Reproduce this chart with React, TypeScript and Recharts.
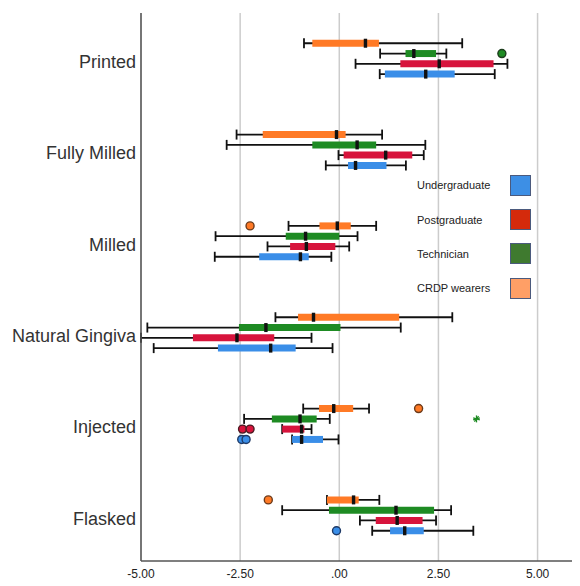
import React from 'react';
import { ScatterChart, Scatter, XAxis, YAxis, CartesianGrid, ErrorBar, Legend } from 'recharts';

const categories = ['Printed', 'Fully Milled', 'Milled', 'Natural Gingiva', 'Injected', 'Flasked'];
const xTicks = [-5, -2.5, 0, 2.5, 5];
const legendOrder = ['Undergraduate', 'Postgraduate', 'Technician', 'CRDP wearers'];

// [min, q1, median, q3, max] for each category
const crdpStats = [
  [-0.89, -0.68, 0.66, 1.0, 3.1],
  [-2.59, -1.93, -0.07, 0.16, 1.08],
  [-1.28, -0.5, -0.05, 0.29, 0.93],
  [-1.61, -1.04, -0.65, 1.51, 2.85],
  [-0.91, -0.51, -0.14, 0.35, 0.75],
  [-0.31, -0.31, 0.36, 0.49, 1.01],
];
const technicianStats = [
  [1.03, 1.67, 1.88, 2.44, 2.7],
  [-2.84, -0.68, 0.45, 0.93, 2.17],
  [-3.12, -1.35, -0.85, 0.0, 0.46],
  [-4.84, -2.53, -1.85, 0.03, 1.55],
  [-2.4, -1.7, -0.99, -0.57, -0.24],
  [-1.44, -0.26, 1.43, 2.39, 2.82],
];
const postgraduateStats = [
  [0.41, 1.54, 2.52, 3.89, 4.24],
  [-0.02, 0.11, 1.17, 1.84, 2.13],
  [-1.81, -1.24, -0.83, -0.1, 0.25],
  [-5.0, -3.69, -2.58, -1.64, -0.7],
  [-1.44, -1.44, -0.95, -0.88, -0.7],
  [0.52, 0.92, 1.46, 2.1, 2.44],
];
const undergraduateStats = [
  [1.02, 1.15, 2.18, 2.91, 3.92],
  [-0.34, 0.22, 0.41, 1.19, 1.68],
  [-3.14, -2.02, -0.98, -0.77, -0.2],
  [-4.68, -3.06, -1.73, -1.1, -0.17],
  [-1.19, -1.19, -0.95, -0.41, -0.02],
  [0.83, 1.28, 1.65, 2.13, 3.38],
];

const outlierGroups = ['Technician', 'CRDP wearers', 'CRDP wearers', 'Postgraduate', 'Postgraduate', 'Undergraduate', 'Undergraduate', 'CRDP wearers', 'Undergraduate'];
const outlierCategories = ['Printed', 'Milled', 'Injected', 'Injected', 'Injected', 'Injected', 'Injected', 'Flasked', 'Flasked'];
const outlierValues = [4.1, -2.25, 2.0, -2.44, -2.25, -2.46, -2.35, -1.79, -0.07];

const extremeGroups = ['Technician'];
const extremeCategories = ['Injected'];
const extremeValues = [3.46];

const statsByGroup: Record<string, number[][]> = {
  'CRDP wearers': crdpStats,
  Technician: technicianStats,
  Postgraduate: postgraduateStats,
  Undergraduate: undergraduateStats,
};

// styles and in-category offsets
const groupStyle: Record<string, { box: string; legend: string; offset: number; dark: string }> = {
  'CRDP wearers': { box: '#FF7A26', legend: '#FF9F66', offset: -0.169, dark: '#6b3a1a' },
  Technician: { box: '#1E8B23', legend: '#3F7A2F', offset: -0.056, dark: '#1d3d1d' },
  Postgraduate: { box: '#D7143C', legend: '#D42A0C', offset: 0.056, dark: '#4a1a22' },
  Undergraduate: { box: '#3A8EE8', legend: '#3D8FE5', offset: 0.169, dark: '#1f3a66' },
};

const FONT = '"Liberation Sans", Arial, sans-serif';

const boxData = (group: string) =>
  statsByGroup[group].map((s, i) => ({
    x: s[2],
    y: i + groupStyle[group].offset,
    whisker: [s[2] - s[0], s[4] - s[2]],
    box: [s[2] - s[1], s[3] - s[2]],
  }));

const medianData = Object.keys(statsByGroup).flatMap((g) => boxData(g).map((d) => ({ x: d.x, y: d.y })));

const outlierData = outlierValues.map((v, i) => ({
  x: v,
  y: categories.indexOf(outlierCategories[i]) + groupStyle[outlierGroups[i]].offset,
  group: outlierGroups[i],
}));

const extremeData = extremeValues.map((v, i) => ({
  x: v,
  y: categories.indexOf(extremeCategories[i]) + groupStyle[extremeGroups[i]].offset,
  group: extremeGroups[i],
}));

const EmptyShape = () => <g />;

const MedianShape = (props: any) => {
  const { cx, cy } = props;
  return <rect x={cx - 1.7} y={cy - 4.5} width={3.4} height={9} fill="#111" />;
};

const OutlierShape = (props: any) => {
  const { cx, cy, payload } = props;
  const st = groupStyle[payload.group];
  return <circle cx={cx} cy={cy} r={4} fill={st.box} stroke={st.dark} strokeWidth={1.4} />;
};

const StarShape = (props: any) => {
  const { cx, cy, payload } = props;
  const c = groupStyle[payload.group].box;
  const r = 3.5;
  return (
    <g stroke={c} strokeWidth={1.3}>
      <line x1={cx} y1={cy - r} x2={cx} y2={cy + r} />
      <line x1={cx - r * 0.95} y1={cy - r * 0.31} x2={cx + r * 0.95} y2={cy + r * 0.31} />
      <line x1={cx - r * 0.95} y1={cy + r * 0.31} x2={cx + r * 0.95} y2={cy - r * 0.31} />
      <line x1={cx - r * 0.59} y1={cy + r * 0.81} x2={cx + r * 0.59} y2={cy - r * 0.81} />
    </g>
  );
};

const CategoryTick = (props: any) => {
  const { x, y, payload } = props;
  return (
    <text x={x} y={y + 3} dy="0.355em" textAnchor="end" fontSize={18} fill="#333" fontFamily={FONT}>
      {categories[payload.value]}
    </text>
  );
};

const fmt = (v: number) => {
  if (v === 0) return '.00';
  return v.toFixed(2);
};

const LegendContent = () => (
  <div style={{ fontFamily: FONT, fontSize: 11, color: '#222' }}>
    {legendOrder.map((name) => (
      <div key={name} style={{ display: 'flex', alignItems: 'center', height: 34.4 }}>
        <span style={{ width: 93, display: 'inline-block' }}>{name}</span>
        <span
          style={{
            width: 21,
            height: 21,
            display: 'inline-block',
            background: groupStyle[name].legend,
            border: '1.5px solid #4b5a7d',
            boxSizing: 'border-box',
          }}
        />
      </div>
    ))}
  </div>
);

export default function App() {
  const groups = Object.keys(statsByGroup);
  return (
    <div style={{ fontFamily: FONT, width: 572, height: 578 }}>
      <ScatterChart width={572} height={578} margin={{ top: 5, right: 0, bottom: 0, left: 0 }}>
        <CartesianGrid horizontal={false} stroke="#cccccc" strokeWidth={1.5} />
        <XAxis
          type="number"
          dataKey="x"
          domain={[-5, 6.07]}
          ticks={xTicks}
          interval={0}
          allowDataOverflow
          tickFormatter={fmt}
          tickLine={false}
          axisLine={{ stroke: '#555', strokeWidth: 1.5 }}
          tick={{ fontSize: 12, fill: '#222', fontFamily: FONT }}
          height={25}
        />
        <YAxis
          type="number"
          dataKey="y"
          domain={[-0.5, 5.5]}
          ticks={[0, 1, 2, 3, 4, 5]}
          interval={0}
          reversed
          allowDataOverflow
          tickLine={false}
          tickSize={0}
          tickMargin={5}
          axisLine={{ stroke: '#555', strokeWidth: 1.5 }}
          tick={<CategoryTick />}
          width={133}
        />
        {groups.map((g) => (
          <Scatter key={g} name={g} data={boxData(g)} shape={<EmptyShape />} isAnimationActive={false} legendType="none">
            <ErrorBar dataKey="whisker" direction="x" width={5} stroke="#111" strokeWidth={1.8} isAnimationActive={false} />
            <ErrorBar dataKey="box" direction="x" width={0} stroke={groupStyle[g].box} strokeWidth={7} isAnimationActive={false} />
          </Scatter>
        ))}
        <Scatter name="median" data={medianData} shape={<MedianShape />} isAnimationActive={false} legendType="none" />
        <Scatter name="outliers" data={outlierData} shape={<OutlierShape />} isAnimationActive={false} legendType="none" />
        <Scatter name="extremes" data={extremeData} shape={<StarShape />} isAnimationActive={false} legendType="none" />
        <Legend
          layout="vertical"
          align="center"
          verticalAlign="middle"
          content={<LegendContent />}
          wrapperStyle={{ position: 'absolute', left: 409, top: 160, width: 130 }}
        />
      </ScatterChart>
    </div>
  );
}
